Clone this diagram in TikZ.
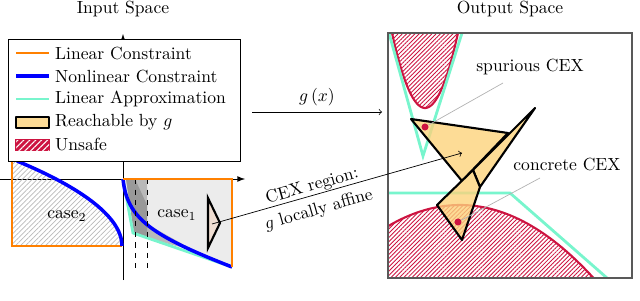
\documentclass[tikz,border=0pt]{standalone}
\usepackage{amsmath}
\usetikzlibrary{arrows, positioning, patterns.meta}

\definecolor{approxcyan}{RGB}{120,245,205}
\definecolor{unsafered}{RGB}{205,20,65}
\definecolor{reachfill}{RGB}{252,211,124}
\definecolor{cexfill}{RGB}{240,222,210}

\begin{document}
\begin{tikzpicture}[x=0.02cm,y=-0.02cm]
 \tikzstyle{linconstr}=[draw=orange,line width=1.7pt]
 \tikzstyle{nonlinconstr}=[draw=blue,line width=2pt]
 \tikzstyle{linapprox}=[draw=approxcyan,line width=1.6pt]
 \tikzstyle{reach}=[draw=black,line width=1.2pt,fill=reachfill,
   fill opacity=0.8,line join=round]
 \tikzstyle{unsafehatch}=[pattern={Lines[angle=45,distance=1.7pt,line width=0.5pt]},
   pattern color=unsafered]
 \tikzstyle{axis}=[-latex,line width=0.5pt]
 \tikzstyle{leader}=[draw=gray!60,line width=0.4pt]
 \tikzstyle{cexdot}=[circle,fill=unsafered,inner sep=0pt,minimum size=4pt]
 \tikzstyle{legtext}=[anchor=west]

 \useasboundingbox (0,0) rectangle (640,301);

 \node (intitle) at (123,9) {Input Space};
 \node (outtitle) at (510,9) {Output Space};

 % input space: axes
 \draw[axis] (0,179) -- (245,179);
 \draw[axis] (123,280) -- (123,34);

 % case 2
 \fill[pattern={Lines[angle=45,distance=2pt,line width=0.4pt]},pattern color=gray!55]
   (12,158) -- (12,246) -- (122,246) .. controls (122,215) and (75,185) .. (17,161) -- cycle;
 \draw[linconstr] (12,150) -- (12,246) -- (122,246);
 \draw[nonlinconstr] (17,161) .. controls (75,185) and (122,215) .. (122,246);
 \node (case2) at (67,216) {case$_2$};

 % case 1
 \fill[gray!15] (123,179) -- (232,179) -- (232,267)
   .. controls (150,235) and (127,218) .. (123,179) -- cycle;
 \fill[gray!55] (126,179) -- (147,179) -- (147,224) -- (195,251) -- (147,238) -- (134,233) -- cycle;
 \fill[gray!80] (126,179) -- (135,179) -- (147,205) -- (147,238) -- (134,233) -- cycle;
 \draw[linapprox] (123,179) -- (133,233) -- (232,267);
 \draw[nonlinconstr] (123,179) .. controls (127,218) and (150,235) .. (232,267);
 \draw[dashed,line width=0.5pt] (135,179) -- (135,268);
 \draw[dashed,line width=0.5pt] (147,179) -- (147,268);
 \draw[linconstr] (123,179) -- (232,179) -- (232,267);
 \node (case1) at (177,215) {case$_1$};
 \draw[line width=1.2pt,fill=cexfill] (208,198) -- (220,223) -- (208,248) -- cycle;

 % legend
 \node (legend) [draw,fill=white,inner sep=0pt,minimum width=4.64cm,
   minimum height=2.44cm] at (124,100) {};
 \draw[linconstr] (16,53) -- (49,53);
 \node (lglin) [legtext] at (49,53) {Linear Constraint};
 \draw[nonlinconstr] (16,76) -- (49,76);
 \node (lgnonlin) [legtext] at (49,76) {Nonlinear Constraint};
 \draw[linapprox] (16,99) -- (49,99);
 \node (lgapprox) [legtext] at (49,99) {Linear Approximation};
 \draw[reach] (16,117) rectangle (49,128);
 \node (lgreach) [legtext] at (49,122) {Reachable by $g$};
 \draw[unsafered,line width=1pt,fill=unsafered,
   postaction={pattern={Lines[angle=45,distance=2.4pt,line width=0.6pt]},pattern color=white}]
   (16,140) rectangle (49,150);
 \node (lgunsafe) [legtext] at (49,145) {Unsafe};

 % map
 \coordinate (gxfrom) at (252,112);
 \coordinate (gxto) at (382,112);
 \draw[->] (gxfrom) -- node[above] (gxlbl) {$g\left(x\right)$} (gxto);

 % output space
 \begin{scope}
  \clip (388,33) rectangle (632,278);
  \path[unsafehatch] plot[domain=385:640,samples=60] (\x,{205+(0.064*(\x-460))^2})
    -- (640,300) -- (385,300) -- cycle;
  \draw[unsafered,line width=1.2pt] plot[domain=385:640,samples=60] (\x,{205+(0.064*(\x-460))^2});
  \path[unsafehatch] plot[domain=385:465,samples=50] (\x,{108-(0.2625*(\x-425))^2})
    -- (465,20) -- (385,20) -- cycle;
  \draw[unsafered,line width=1.2pt] plot[domain=385:465,samples=50] (\x,{108-(0.2625*(\x-425))^2});
  \draw[linapprox] (389,33) -- (423,156) -- (462,33);
  \draw[linapprox] (388,193) -- (510,193) -- (607,278);
 \end{scope}
 \draw[reach] (411,119) -- (508,133) -- (462,181) -- cycle;
 \draw[reach] (535,108) -- (473,170) -- (480,187) -- cycle;
 \draw[reach] (437,205) -- (473,170) -- (480,187) -- (462,240) -- cycle;
 \draw[black!65,line width=1pt] (388,33) rectangle (632,278);

 \node (spurdot) [cexdot] at (425,127) {};
 \node (concdot) [cexdot] at (458,222) {};
 \node (spur) at (530,67) {spurious CEX};
 \node (conc) at (567,165) {concrete CEX};
 \coordinate (spurtip) at (503,83);
 \coordinate (conctip) at (540,178);
 \draw[leader] (spurtip) -- (spurdot);
 \draw[leader] (conctip) -- (concdot);

 % cex region arrow
 \coordinate (cexin) at (212,224);
 \coordinate (cexout) at (462,153);
 \draw[->] (cexin) -- node[sloped,pos=0.41,align=center,yshift=-2pt] (cexlbl)
   {CEX region:\\[2pt]$g$ locally affine} (cexout);
\end{tikzpicture}
\end{document}
